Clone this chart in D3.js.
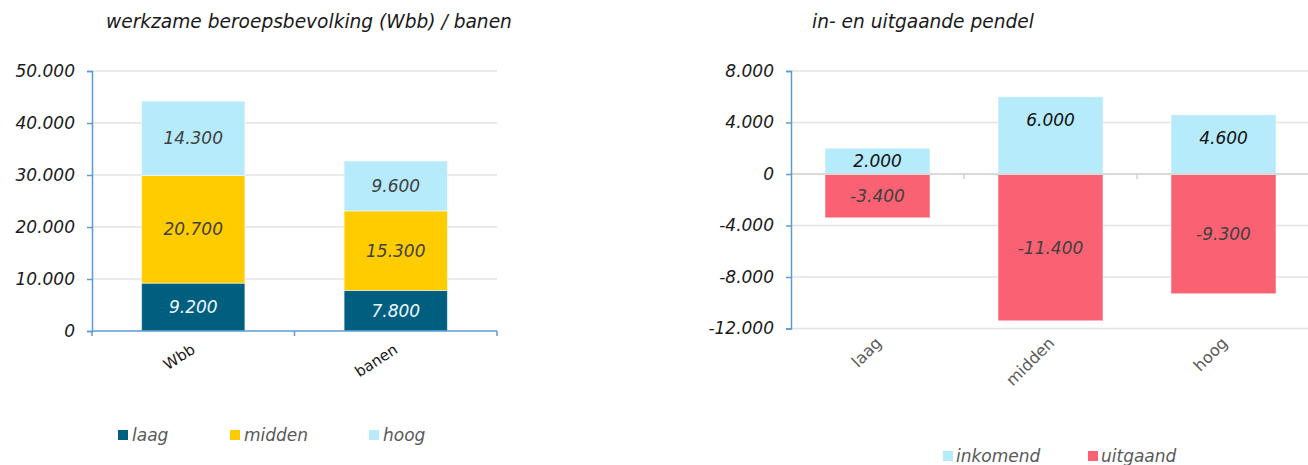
<!DOCTYPE html>
<meta charset="utf-8">
<style>
  body { margin: 0; background: #fff; }
  svg { display: block; font-family: "DejaVu Sans", Verdana, sans-serif; }
  .title { font-size: 18.6px; font-style: italic; fill: #1a1a1a; }
  .val { font-size: 17px; font-style: italic; }
  .legend text { font-size: 17px; font-style: italic; fill: #595959; }
</style>
<script src="https://d3js.org/d3.v7.min.js"></script>
<body>
<svg id="chart" width="1308" height="465"></svg>
<script>
// left chart: werkzame beroepsbevolking / banen
const stackCats = ["Wbb", "banen"];
const levels = ["laag", "midden", "hoog"];
const laagVals = [9200, 7800];
const middenVals = [20700, 15300];
const hoogVals = [14300, 9600];
const leftTicks = [0, 10000, 20000, 30000, 40000, 50000];

// right chart: pendel
const pendelCats = ["laag", "midden", "hoog"];
const inkomend = [2000, 6000, 4600];
const uitgaand = [-3400, -11400, -9300];
const rightTicks = [-12000, -8000, -4000, 0, 4000, 8000];

const levelColor = { laag: "#005f7f", midden: "#ffcc00", hoog: "#b5ebfb" };
const inColor = "#b5ebfb", outColor = "#fa6273";

const nl = d3.formatLocale({ decimal: ",", thousands: ".", grouping: [3], currency: ["€", ""], minus: "-" });
const fmt = nl.format(",d");

const svg = d3.select("#chart");

function styleAxis(ax) {
  ax.attr("font-family", null).attr("font-size", null);
  ax.select(".domain").attr("stroke", "#5b9bd5").attr("stroke-width", 1.5);
  ax.selectAll(".tick line").attr("stroke", "#5b9bd5").attr("stroke-width", 1.5);
  ax.selectAll(".tick text")
    .style("font-size", "17px").style("font-style", "italic")
    .style("font-family", "'DejaVu Sans', Verdana, sans-serif").attr("fill", "#1a1a1a");
}

/* ---------- left ---------- */
const yL = d3.scaleLinear().domain([0, 50000]).range([331, 71]);
const xL = d3.scaleBand().domain(stackCats).range([92, 497]).paddingInner(0.49).paddingOuter(0.245);

svg.append("text").attr("class", "title").attr("x", 106).attr("y", 28).text("werkzame beroepsbevolking (Wbb) / banen");

svg.append("g").selectAll("line").data(leftTicks.slice(1)).join("line")
  .attr("x1", 92).attr("x2", 497).attr("y1", d => yL(d)).attr("y2", d => yL(d))
  .attr("stroke", "#e3e3e3").attr("stroke-width", 1.5);

const stackData = stackCats.map((c, i) => ({ cat: c, laag: laagVals[i], midden: middenVals[i], hoog: hoogVals[i] }));
const series = d3.stack().keys(levels)(stackData);

series.forEach(s => {
  const g = svg.append("g");
  g.selectAll("rect").data(s).join("rect")
    .attr("x", d => xL(d.data.cat)).attr("width", xL.bandwidth())
    .attr("y", d => yL(d[1])).attr("height", d => yL(d[0]) - yL(d[1]))
    .attr("fill", levelColor[s.key]).attr("stroke", "#fff").attr("stroke-opacity", 0.5).attr("stroke-width", 1);
  g.selectAll("text").data(s).join("text").attr("class", "val")
    .attr("x", d => xL(d.data.cat) + xL.bandwidth() / 2)
    .attr("y", d => (yL(d[0]) + yL(d[1])) / 2)
    .attr("dy", "0.36em").attr("text-anchor", "middle")
    .attr("fill", s.key === "laag" ? "#eef8ff" : "#404040")
    .text(d => fmt(d[1] - d[0]));
});

// y axis left
const axL = svg.append("g").attr("transform", "translate(92,0)")
  .call(d3.axisLeft(yL).tickValues(leftTicks).tickFormat(fmt).tickSize(5).tickPadding(12));
styleAxis(axL);

// x axis left (at 0)
svg.append("line").attr("x1", 92).attr("x2", 497).attr("y1", yL(0)).attr("y2", yL(0))
  .attr("stroke", "#5b9bd5").attr("stroke-width", 1.5);
const bndL = stackCats.map(c => xL(c) - xL.step() * 0.245).concat([497]);
svg.append("g").selectAll("line").data(bndL).join("line")
  .attr("x1", d => d).attr("x2", d => d).attr("y1", yL(0)).attr("y2", yL(0) + 5)
  .attr("stroke", "#5b9bd5").attr("stroke-width", 1.5);
svg.append("g").selectAll("text").data(stackCats).join("text")
  .attr("transform", d => `translate(${xL(d) + xL.bandwidth() / 2 + 3},352) rotate(-33)`)
  .attr("text-anchor", "end").style("font-size", "15px").attr("fill", "#1a1a1a").text(d => d);

// legend left
const legL = svg.append("g").attr("class", "legend");
const legLX = [118, 230, 369];
levels.forEach((k, i) => {
  legL.append("rect").attr("x", legLX[i]).attr("y", 430).attr("width", 10).attr("height", 10).attr("fill", levelColor[k]);
  legL.append("text").attr("x", legLX[i] + 14).attr("y", 441).text(k);
});

/* ---------- right ---------- */
const yR = d3.scaleLinear().domain([-12000, 8000]).range([328.5, 71]);
const xR = d3.scaleBand().domain(pendelCats).range([791, 1310]).paddingInner(0.393).paddingOuter(0.1965);

svg.append("text").attr("class", "title").attr("x", 812).attr("y", 28).text("in- en uitgaande pendel");

svg.append("g").selectAll("line").data(rightTicks.filter(d => d !== 0)).join("line")
  .attr("x1", 791).attr("x2", 1310).attr("y1", d => yR(d)).attr("y2", d => yR(d))
  .attr("stroke", "#e3e3e3").attr("stroke-width", 1.5);

const pendel = pendelCats.map((c, i) => ({ cat: c, inV: inkomend[i], outV: uitgaand[i] }));

svg.append("g").selectAll("rect").data(pendel).join("rect")
  .attr("x", d => xR(d.cat)).attr("width", xR.bandwidth())
  .attr("y", d => yR(d.inV)).attr("height", d => yR(0) - yR(d.inV))
  .attr("fill", inColor).attr("stroke", "#fff").attr("stroke-opacity", 0.5);
svg.append("g").selectAll("rect").data(pendel).join("rect")
  .attr("x", d => xR(d.cat)).attr("width", xR.bandwidth())
  .attr("y", yR(0)).attr("height", d => yR(d.outV) - yR(0))
  .attr("fill", outColor).attr("stroke", "#fff").attr("stroke-opacity", 0.5);

svg.append("g").selectAll("text").data(pendel).join("text").attr("class", "val")
  .attr("x", d => xR(d.cat) + xR.bandwidth() / 2)
  .attr("y", d => Math.min((yR(d.inV) + yR(0)) / 2, yR(d.inV) + 23))
  .attr("dy", "0.36em").attr("text-anchor", "middle").attr("fill", "#111")
  .text(d => fmt(d.inV));
svg.append("g").selectAll("text").data(pendel).join("text").attr("class", "val")
  .attr("x", d => xR(d.cat) + xR.bandwidth() / 2)
  .attr("y", d => (yR(d.outV) + yR(0)) / 2)
  .attr("dy", "0.36em").attr("text-anchor", "middle").attr("fill", "#404040")
  .text(d => fmt(d.outV));

// zero line with category ticks
svg.append("line").attr("x1", 791).attr("x2", 1310).attr("y1", yR(0)).attr("y2", yR(0))
  .attr("stroke", "#d9d9d9").attr("stroke-width", 2);
const bndR = pendelCats.slice(1).map(c => xR(c) - xR.step() * 0.1965);
svg.append("g").selectAll("line").data(bndR).join("line")
  .attr("x1", d => d).attr("x2", d => d).attr("y1", yR(0)).attr("y2", yR(0) + 5)
  .attr("stroke", "#d0d0d0").attr("stroke-width", 1.5);

const axR = svg.append("g").attr("transform", "translate(791,0)")
  .call(d3.axisLeft(yR).tickValues(rightTicks).tickFormat(fmt).tickSize(5).tickPadding(12));
styleAxis(axR);

svg.append("g").selectAll("text").data(pendelCats).join("text")
  .attr("transform", d => `translate(${xR(d) + xR.bandwidth() / 2 + 5},344) rotate(-45)`)
  .attr("text-anchor", "end").style("font-size", "16px").attr("fill", "#595959").text(d => d);

// legend right
const legR = svg.append("g").attr("class", "legend");
const legRItems = [{ k: "inkomend", c: inColor, x: 943 }, { k: "uitgaand", c: outColor, x: 1088 }];
legRItems.forEach(d => {
  legR.append("rect").attr("x", d.x).attr("y", 451).attr("width", 10).attr("height", 10).attr("fill", d.c);
  legR.append("text").attr("x", d.x + 13).attr("y", 462).text(d.k);
});
</script>
</body>
